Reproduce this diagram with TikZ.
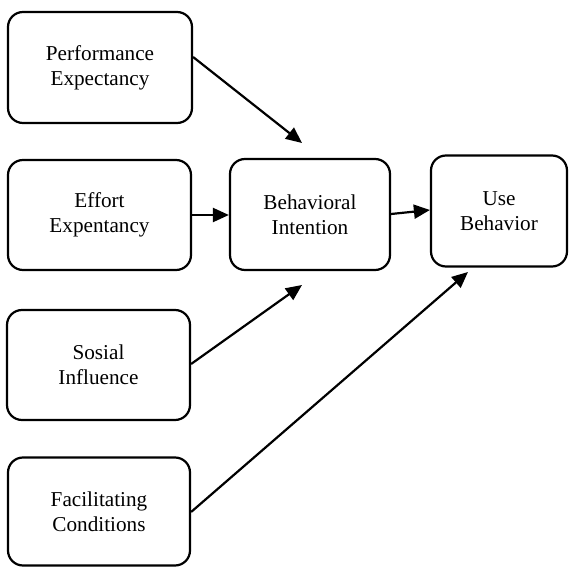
\documentclass[tikz,border=0pt]{standalone}
\usepackage{fontspec}
\setmainfont{Liberation Serif}
\usetikzlibrary{arrows.meta}

\begin{document}
\begin{tikzpicture}[x=0.5pt,y=-0.5pt,line width=1.1pt,
  font=\fontsize{10.6}{12.5}\selectfont,
  factor/.style={draw, rounded corners=7.5pt, align=center, inner sep=0pt},
  link/.style={-{Triangle[length=8pt,width=7pt]}}];

\useasboundingbox (0,0) rectangle (569,567);

% independent variables
\node[factor, minimum width=92pt, minimum height=55.5pt] (pe) at (100,67.5) {Performance\\Expectancy};
\node[factor, minimum width=91.5pt, minimum height=55pt] (ee) at (99.5,215) {Effort\\Expentancy};
\node[factor, minimum width=91.5pt, minimum height=55pt] (si) at (98.5,365) {Sosial\\Influence};
\node[factor, minimum width=91pt, minimum height=54pt] (fc) at (99,511.5) {Facilitating\\Conditions};

% dependent variables
\node[factor, minimum width=80pt, minimum height=55.5pt] (bi) at (310,214.5) {Behavioral\\Intention};
\node[factor, minimum width=68pt, minimum height=55.5pt] (ub) at (499,211) {Use\\Behavior};

% loose arrow ends
\coordinate (bitop) at (302,143);
\coordinate (bibot) at (302,285);
\coordinate (ubbot) at (468,272);

\draw[link] (pe.east |- 0,57) -- (bitop);
\draw[link] (ee.east) -- (bi.west |- ee.east);
\draw[link] (si.east |- 0,364) -- (bibot);
\draw[link] (fc.east |- 0,512) -- (ubbot);
\draw[link] (bi.east |- 0,214) -- (ub.west |- 0,210);
\end{tikzpicture}
\end{document}
